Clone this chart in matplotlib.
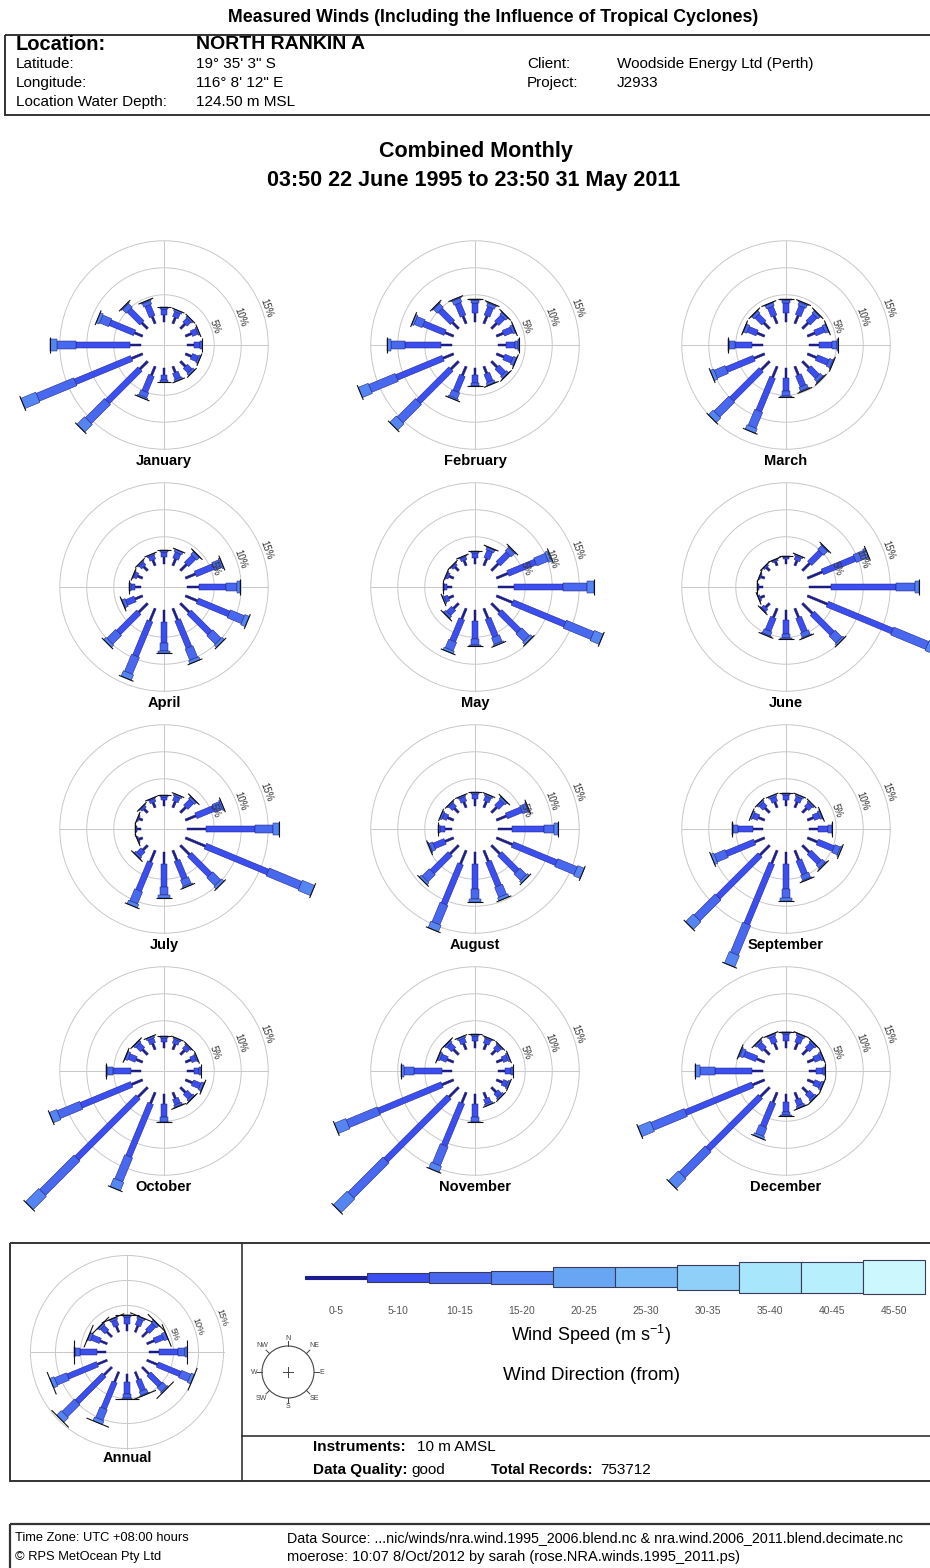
import numpy as np
import matplotlib
matplotlib.use("Agg")
import matplotlib.pyplot as plt
from matplotlib.patches import Rectangle, Polygon, Circle

plt.rcParams['font.family'] = ['Liberation Sans', 'DejaVu Sans']
plt.rcParams['mathtext.fontset'] = 'custom'
plt.rcParams['mathtext.rm'] = 'Liberation Sans'

directions = ["N", "NNE", "NE", "ENE", "E", "ESE", "SE", "SSE",
              "S", "SSW", "SW", "WSW", "W", "WNW", "NW", "NNW"]
speed_bins = ["0-5", "5-10", "10-15", "15-20", "20-25",
              "25-30", "30-35", "35-40", "40-45", "45-50"]
speed_colors = ["#1c1c8e", "#3b4ef0", "#4868f0", "#5585f2", "#68a6f4",
                "#78baf6", "#8ed0f8", "#a8e6fc", "#b8effc", "#ccf7fd"]

# percent of records per direction, split by speed band (0-5, 5-10, 10-15, 15-20 m/s)
january = [[1.3, 1.1, 0.4, 0], [1.2, 1.0, 0.4, 0], [1.2, 1.0, 0.4, 0], [1.2, 1.1, 0.3, 0],
           [1.3, 1.1, 0.4, 0], [1.2, 1.2, 0.4, 0], [1.3, 1.2, 0.5, 0], [1.2, 1.2, 0.4, 0],
           [1.2, 1.0, 0.4, 0], [1.8, 3.2, 1.0, 0.3], [2.0, 8.5, 5.0, 2.0], [2.2, 11.3, 7.5, 3.0],
           [2.0, 10.0, 3.6, 1.2], [1.6, 4.9, 1.8, 0.6], [1.5, 3.3, 1.0, 0.2], [1.4, 2.2, 0.7, 0.2]]
february = [[1.6, 1.8, 0.7, 0.2], [1.5, 1.7, 0.6, 0.2], [1.4, 1.6, 0.5, 0.1], [1.4, 1.6, 0.5, 0.1],
            [1.5, 1.6, 0.6, 0.1], [1.5, 1.6, 0.6, 0.1], [1.5, 1.7, 0.5, 0.1], [1.4, 1.6, 0.5, 0.1],
            [1.3, 1.5, 0.4, 0.1], [1.8, 3.2, 1.2, 0.3], [2.0, 8.5, 4.8, 1.7], [2.1, 9.3, 5.3, 2.0],
            [2.0, 6.6, 2.6, 0.8], [1.7, 4.3, 1.6, 0.4], [1.6, 3.2, 1.0, 0.2], [1.5, 2.5, 0.8, 0.2]]
march = [[1.6, 1.8, 0.6, 0.2], [1.6, 1.8, 0.6, 0.2], [1.5, 1.8, 0.6, 0.1], [1.5, 1.8, 0.6, 0.1],
         [1.8, 2.5, 0.8, 0.2], [1.8, 2.3, 0.7, 0.2], [1.7, 2.2, 0.7, 0.2], [1.7, 2.2, 0.7, 0.2],
         [1.8, 2.5, 0.9, 0.2], [2.2, 6.7, 3.2, 0.9], [2.2, 7.7, 3.9, 1.2], [2.1, 5.5, 2.2, 0.7],
         [2.0, 3.2, 1.0, 0.3], [1.5, 1.8, 0.6, 0.1], [1.5, 1.8, 0.6, 0.1], [1.5, 1.8, 0.6, 0.1]]
april = [[1.2, 1.0, 0.3, 0], [1.3, 1.2, 0.5, 0], [1.6, 1.9, 0.7, 0.1], [2.0, 3.6, 1.4, 0.3],
         [2.2, 5.0, 2.0, 0.6], [2.4, 6.3, 2.8, 0.9], [2.3, 5.4, 2.2, 0.6], [2.3, 5.5, 2.3, 0.6],
         [2.1, 4.0, 1.5, 0.4], [2.5, 7.0, 3.4, 1.1], [2.3, 5.3, 2.3, 0.6], [1.5, 1.7, 0.6, 0.1],
         [1.1, 0.8, 0.3, 0], [1.0, 0.6, 0.2, 0], [1.0, 0.7, 0.3, 0], [1.1, 0.8, 0.3, 0]]
may = [[1.1, 0.9, 0.3, 0], [1.4, 1.5, 0.5, 0.1], [1.8, 2.6, 0.9, 0.2], [2.3, 5.5, 2.3, 0.7],
       [3.0, 9.0, 4.4, 1.4], [3.2, 10.5, 5.5, 1.8], [2.2, 5.0, 2.0, 0.6], [2.0, 3.6, 1.3, 0.3],
       [2.0, 3.3, 1.1, 0.3], [2.1, 4.4, 1.7, 0.5], [1.3, 1.3, 0.5, 0.1], [1.0, 0.7, 0.3, 0],
       [0.9, 0.5, 0.2, 0], [0.9, 0.4, 0.2, 0], [0.9, 0.4, 0.2, 0], [1.0, 0.6, 0.2, 0]]
june = [[0.9, 0.4, 0.2, 0], [1.0, 0.7, 0.3, 0], [1.9, 2.9, 1.0, 0.2], [3.0, 6.5, 2.0, 0.5],
        [4.0, 12.0, 3.6, 0.8], [4.0, 13.0, 7.0, 3.0], [2.6, 5.2, 1.8, 0.4], [1.8, 2.8, 0.9, 0.2],
        [1.8, 2.6, 0.8, 0.2], [1.8, 2.6, 0.8, 0.2], [1.0, 0.6, 0.2, 0], [0.8, 0.3, 0.1, 0],
        [0.7, 0.2, 0.1, 0], [0.7, 0.2, 0.1, 0], [0.8, 0.3, 0.1, 0], [0.8, 0.3, 0.1, 0]]
july = [[1.0, 0.7, 0.3, 0], [1.2, 0.9, 0.4, 0], [1.4, 1.5, 0.5, 0.1], [2.1, 3.6, 1.4, 0.3],
        [3.5, 9.0, 3.4, 1.1], [4.0, 12.5, 6.5, 2.5], [2.4, 5.3, 2.1, 0.6], [2.0, 3.6, 1.3, 0.3],
        [2.1, 4.3, 1.6, 0.5], [2.3, 5.7, 2.4, 0.7], [1.2, 1.1, 0.4, 0.1], [0.7, 0.2, 0.1, 0],
        [0.7, 0.2, 0.1, 0], [0.7, 0.2, 0.1, 0], [0.9, 0.4, 0.2, 0], [1.0, 0.6, 0.2, 0]]
august = [[1.2, 0.9, 0.4, 0], [1.2, 0.9, 0.4, 0], [1.4, 1.4, 0.5, 0.1], [2.0, 3.0, 1.1, 0.2],
          [2.6, 5.8, 2.0, 0.6], [3.2, 8.8, 3.9, 1.3], [2.2, 4.5, 1.7, 0.5], [2.2, 4.9, 2.0, 0.6],
          [2.2, 4.7, 1.8, 0.5], [2.7, 8.0, 3.9, 1.3], [2.2, 4.7, 1.9, 0.5], [1.7, 2.2, 0.7, 0.2],
          [1.2, 1.0, 0.4, 0], [1.2, 0.9, 0.4, 0], [1.1, 0.9, 0.3, 0], [1.1, 0.9, 0.3, 0]]
september = [[1.1, 0.9, 0.4, 0], [1.1, 0.9, 0.4, 0], [1.1, 0.9, 0.4, 0], [1.2, 1.1, 0.4, 0.1],
             [1.6, 1.9, 0.7, 0.1], [2.0, 3.2, 1.1, 0.3], [1.8, 2.6, 0.8, 0.2], [1.9, 2.8, 1.0, 0.2],
             [2.2, 4.6, 1.7, 0.5], [2.6, 12.1, 6.0, 2.3], [2.5, 11.0, 5.5, 2.0], [2.0, 5.6, 2.2, 0.6],
             [1.8, 2.8, 0.9, 0.2], [1.2, 1.0, 0.4, 0], [1.2, 1.0, 0.4, 0], [1.1, 0.9, 0.4, 0]]
october = [[1.1, 0.8, 0.3, 0], [1.1, 0.8, 0.3, 0], [1.1, 0.8, 0.3, 0], [1.1, 0.9, 0.3, 0],
           [1.2, 1.0, 0.4, 0], [1.4, 1.5, 0.5, 0.1], [1.3, 1.2, 0.4, 0.1], [1.2, 1.1, 0.4, 0.1],
           [1.8, 2.5, 0.8, 0.1], [2.2, 10.6, 4.8, 1.7], [2.5, 16.0, 9.0, 3.5], [2.2, 10.1, 4.5, 1.5],
           [1.8, 3.4, 1.0, 0.3], [1.3, 1.4, 0.5, 0.1], [1.3, 1.2, 0.4, 0.1], [1.2, 0.9, 0.4, 0]]
november = [[1.2, 0.9, 0.4, 0], [1.1, 0.9, 0.3, 0], [1.1, 0.9, 0.3, 0], [1.2, 0.9, 0.4, 0],
            [1.3, 1.1, 0.4, 0], [1.2, 0.9, 0.4, 0], [1.2, 0.9, 0.4, 0], [1.2, 0.9, 0.4, 0],
            [1.8, 2.5, 0.8, 0.1], [2.1, 8.5, 3.8, 1.2], [2.5, 16.5, 9.2, 3.6], [2.3, 12.7, 6.2, 2.3],
            [1.9, 5.1, 1.9, 0.5], [1.3, 1.2, 0.4, 0.1], [1.3, 1.2, 0.4, 0.1], [1.2, 0.9, 0.4, 0]]
december = [[1.3, 1.2, 0.4, 0.1], [1.3, 1.2, 0.4, 0.1], [1.3, 1.2, 0.4, 0.1], [1.3, 1.2, 0.4, 0.1],
            [1.3, 1.2, 0.4, 0.1], [1.3, 1.2, 0.4, 0.1], [1.3, 1.2, 0.4, 0.1], [1.3, 1.2, 0.4, 0.1],
            [1.5, 1.7, 0.7, 0.1], [2.0, 4.8, 1.7, 0.5], [2.4, 13.7, 6.8, 2.6], [2.4, 13.4, 6.7, 2.5],
            [2.0, 6.9, 2.8, 0.9], [1.6, 2.4, 0.7, 0.2], [1.4, 1.3, 0.4, 0.1], [1.3, 1.2, 0.4, 0.1]]
annual = [[1.4, 1.3, 0.4, 0.1], [1.4, 1.3, 0.4, 0.1], [1.5, 1.8, 0.6, 0.1], [1.6, 1.9, 0.7, 0.1],
          [2.1, 3.7, 1.4, 0.4], [2.3, 4.9, 2.0, 0.7], [1.9, 3.1, 1.2, 0.3], [1.7, 2.3, 0.8, 0.2],
          [1.7, 2.3, 0.8, 0.2], [2.2, 5.7, 2.3, 0.8], [2.2, 7.6, 3.5, 1.3], [2.1, 6.4, 2.6, 0.9],
          [1.8, 3.3, 1.0, 0.3], [1.5, 1.8, 0.6, 0.1], [1.4, 1.3, 0.4, 0.1], [1.3, 1.2, 0.4, 0.1]]

month_names = ["January", "February", "March", "April", "May", "June", "July",
               "August", "September", "October", "November", "December"]
month_tables = [january, february, march, april, may, june, july,
                august, september, october, november, december]
ring_pcts = [5, 10, 15]

FIG_W, FIG_H = 930, 1568
CALM = 4.3          # radius of the empty centre, in percent units
HALF = 22.2         # half range of each rose axes, percent units
band_width = [0.42, 1.12, 1.58, 2.05]
legend_heights = [3, 9, 11, 13, 20, 20, 25, 31, 31, 34]

fig = plt.figure(figsize=(FIG_W / 100, FIG_H / 100), dpi=100)
page = fig.add_axes([0, 0, 1, 1])
page.set_xlim(0, FIG_W)
page.set_ylim(FIG_H, 0)
page.axis('off')


def rose_axes(cx, cy, px_per_pct):
    size = 2 * HALF * px_per_pct
    ax = fig.add_axes([(cx - size / 2) / FIG_W, 1 - (cy + size / 2) / FIG_H,
                       size / FIG_W, size / FIG_H])
    ax.set_xlim(-HALF, HALF)
    ax.set_ylim(-HALF, HALF)
    ax.set_aspect('equal')
    ax.axis('off')
    return ax


def draw_rose(ax, table, label, label_y=-21.5, cap_extra=0.45, ring_fs=7):
    outer = CALM + ring_pcts[-1]
    for p in ring_pcts:
        ax.add_patch(Circle((0, 0), CALM + p, fill=False, ec='#c8c8c8', lw=0.7, zorder=1))
    ax.plot([-outer, outer], [0, 0], color='#c8c8c8', lw=0.7, zorder=1)
    ax.plot([0, 0], [-outer, outer], color='#c8c8c8', lw=0.7, zorder=1)
    a = np.deg2rad(70)
    for p in ring_pcts:
        rr = CALM + p + 0.8
        ax.text(rr * np.sin(a), rr * np.cos(a), f"{p}%", rotation=-70, fontsize=ring_fs,
                color='#333333', ha='center', va='center', zorder=5)

    for k, bands in enumerate(table):
        th = np.deg2rad(22.5 * k)
        u = np.array([np.sin(th), np.cos(th)])
        v = np.array([np.cos(th), -np.sin(th)])
        r = CALM
        hw_last = 0
        for b, val in enumerate(bands):
            if val <= 0:
                continue
            hw = band_width[b] / 2
            pts = [r * u + hw * v, (r + val) * u + hw * v,
                   (r + val) * u - hw * v, r * u - hw * v]
            ax.add_patch(Polygon(pts, closed=True, fc=speed_colors[b], ec='#1e1e70',
                                 lw=0.35, clip_on=False, zorder=3))
            r += val
            hw_last = hw
        cap = hw_last + cap_extra
        p1, p2 = r * u + cap * v, r * u - cap * v
        ax.plot([p1[0], p2[0]], [p1[1], p2[1]], color='#111111', lw=0.8,
                clip_on=False, zorder=4, solid_capstyle='butt')

    ax.text(0, label_y, label, ha='center', va='center', fontsize=10.5,
            fontweight='bold', zorder=5)


# header
page.text(493, 17, "Measured Winds (Including the Influence of Tropical Cyclones)",
          ha='center', va='center', fontsize=12.8, fontweight='bold')
page.add_patch(Rectangle((5, 35), 940, 80, fill=False, ec='#333333', lw=1.4))
page.text(16, 44, "Location:", ha='left', va='center', fontsize=14.5, fontweight='bold')
page.text(196, 44, "NORTH RANKIN A", ha='left', va='center', fontsize=14, fontweight='bold')
info_left = [("Latitude:", "19\u00b0 35' 3\" S"), ("Longitude:", "116\u00b0 8' 12\" E"),
             ("Location Water Depth:", "124.50 m MSL")]
for i, (k, val) in enumerate(info_left):
    page.text(16, 64 + 19 * i, k, ha='left', va='center', fontsize=11)
    page.text(196, 64 + 19 * i, val, ha='left', va='center', fontsize=11)
info_right = [("Client:", "Woodside Energy Ltd (Perth)"), ("Project:", "J2933")]
for i, (k, val) in enumerate(info_right):
    page.text(527, 64 + 19 * i, k, ha='left', va='center', fontsize=11)
    page.text(617, 64 + 19 * i, val, ha='left', va='center', fontsize=11)

page.text(476, 151, "Combined Monthly", ha='center', va='center', fontsize=15.5, fontweight='bold')
page.text(474, 180, "03:50 22 June 1995 to 23:50 31 May 2011", ha='center', va='center',
          fontsize=15.5, fontweight='bold')

# monthly roses, 3 columns x 4 rows
col_x = [164, 475, 786]
row_y = [345, 587, 829, 1071]
for i, (name, table) in enumerate(zip(month_names, month_tables)):
    ax = rose_axes(col_x[i % 3], row_y[i // 3], 5.4)
    draw_rose(ax, table, name)

# legend panel
page.add_patch(Rectangle((10, 1243), 935, 238, fill=False, ec='#333333', lw=1.4))
page.plot([242, 242], [1243, 1481], color='#333333', lw=1.2)
page.plot([242, 945], [1436, 1436], color='#333333', lw=1.2)

ax = rose_axes(127, 1352, 5.0)
draw_rose(ax, annual, "Annual", label_y=-21.2, cap_extra=1.4, ring_fs=6.5)

bar_x0, bar_w, bar_y = 305, 62, 1277
for i, (name, col) in enumerate(zip(speed_bins, speed_colors)):
    x = bar_x0 + i * bar_w
    h = legend_heights[i]
    page.add_patch(Rectangle((x, bar_y - h / 2), bar_w, h, fc=col,
                             ec=col if i == 0 else '#3a3a5a', lw=0.8))
    page.text(x + bar_w / 2, 1311, name, ha='center', va='center', fontsize=7.5,
              color='#555555')
page.text(591, 1335, "Wind Speed (m s$^{\\mathregular{-1}}$)", ha='center', va='center', fontsize=13)
page.text(591, 1375, "Wind Direction (from)", ha='center', va='center', fontsize=13.5)

# compass key
ccx, ccy, cr = 288, 1372, 26
page.add_patch(Circle((ccx, ccy), cr, fill=False, ec='#444444', lw=0.8))
page.plot([ccx - 5, ccx + 5], [ccy, ccy], color='#444444', lw=0.7)
page.plot([ccx, ccx], [ccy - 5, ccy + 5], color='#444444', lw=0.7)
for k, d in enumerate(directions[::2]):
    th = np.deg2rad(45 * k)
    sx, sy = np.sin(th), -np.cos(th)
    page.plot([ccx + cr * sx, ccx + (cr + 5) * sx], [ccy + cr * sy, ccy + (cr + 5) * sy],
              color='#444444', lw=0.7)
    lr = 34 if k % 2 == 0 else 37
    page.text(ccx + lr * sx, ccy + lr * sy, d, ha='center', va='center', fontsize=5,
              color='#444444')

page.text(313, 1447, "Instruments:", ha='left', va='center', fontsize=11, fontweight='bold')
page.text(417, 1447, "10 m AMSL", ha='left', va='center', fontsize=11)
page.text(313, 1470, "Data Quality:", ha='left', va='center', fontsize=11, fontweight='bold')
page.text(411, 1470, "good", ha='left', va='center', fontsize=11)
page.text(491, 1470, "Total Records:", ha='left', va='center', fontsize=10.5, fontweight='bold')
page.text(600, 1470, "753712", ha='left', va='center', fontsize=11)

# footer
page.add_patch(Rectangle((10, 1524), 935, 60, fill=False, ec='#333333', lw=1.6))
page.text(15, 1538, "Time Zone: UTC +08:00 hours", ha='left', va='center', fontsize=9.3)
page.text(15, 1557, "\u00a9 RPS MetOcean Pty Ltd", ha='left', va='center', fontsize=9.3)
page.text(287, 1538, "Data Source: ...nic/winds/nra.wind.1995_2006.blend.nc & nra.wind.2006_2011.blend.decimate.nc",
          ha='left', va='center', fontsize=10.3)
page.text(287, 1557, "moerose: 10:07 8/Oct/2012 by sarah (rose.NRA.winds.1995_2011.ps)",
          ha='left', va='center', fontsize=10.5)

fig.savefig("out.png", dpi=100)
